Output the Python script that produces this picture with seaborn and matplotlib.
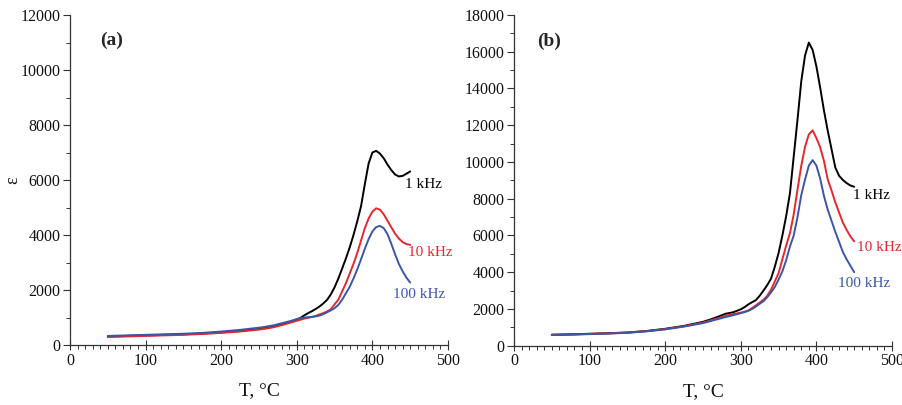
import numpy as np
import pandas as pd
import matplotlib
matplotlib.use("Agg")
import matplotlib.pyplot as plt
from matplotlib.ticker import MultipleLocator
import seaborn as sns

# Temperature grid (°C) shared by all curves
T = [50, 75, 100, 125, 150, 175, 200, 225, 250, 260, 270, 280, 290, 300,
     305, 310, 315, 320, 325, 330, 335, 340, 345, 350, 355, 360, 365, 370,
     375, 380, 385, 390, 395, 400, 405, 410, 415, 420, 425, 430, 435, 440,
     445, 450]

# Panel (a): permittivity vs temperature
a_1k = [310, 330, 350, 370, 390, 420, 460, 510, 580, 620, 680, 750, 830, 930,
        990, 1080, 1160, 1230, 1310, 1400, 1510, 1640, 1840, 2100, 2420, 2780,
        3150, 3550, 4000, 4500, 5050, 5850, 6600, 7000, 7060, 6960, 6790, 6560,
        6360, 6200, 6130, 6150, 6230, 6310]
a_10k = [290, 310, 330, 350, 370, 400, 440, 490, 560, 600, 650, 720, 800, 880,
         920, 960, 990, 1020, 1060, 1110, 1160, 1220, 1300, 1480, 1650, 1950,
         2250, 2600, 2950, 3350, 3800, 4250, 4600, 4850, 4970, 4920, 4750, 4520,
         4280, 4050, 3870, 3740, 3670, 3640]
a_100k = [330, 350, 370, 390, 410, 440, 490, 550, 630, 670, 720, 790, 860, 940,
          980, 1000, 1010, 1020, 1040, 1070, 1120, 1190, 1260, 1340, 1460, 1650,
          1880, 2120, 2420, 2750, 3120, 3500, 3850, 4130, 4290, 4330, 4250, 4030,
          3680, 3300, 2950, 2680, 2450, 2270]

# Panel (b): permittivity vs temperature
b_1k = [600, 620, 650, 680, 720, 800, 920, 1080, 1300, 1430, 1580, 1740, 1820,
        1980, 2100, 2250, 2370, 2480, 2720, 3000, 3300, 3650, 4300, 5050, 6000,
        7050, 8300, 10300, 12300, 14400, 15800, 16500, 16100, 15200, 14050,
        12800, 11700, 10700, 9700, 9250, 9020, 8850, 8720, 8650]
b_10k = [590, 610, 640, 670, 710, 790, 900, 1060, 1260, 1380, 1500, 1620, 1720,
         1800, 1850, 1920, 2050, 2200, 2350, 2500, 2720, 3050, 3500, 3950, 4700,
         5450, 6120, 7150, 8500, 9800, 10830, 11500, 11720, 11300, 10800, 10050,
         9050, 8450, 7800, 7250, 6700, 6300, 5950, 5680]
b_100k = [580, 600, 630, 660, 700, 780, 890, 1040, 1230, 1340, 1450, 1560, 1660,
          1770, 1830, 1900, 2000, 2130, 2280, 2420, 2640, 2900, 3200, 3600, 4050,
          4650, 5400, 6000, 7000, 8200, 9050, 9800, 10100, 9800, 9100, 8150,
          7400, 6800, 6200, 5650, 5100, 4700, 4350, 4000]

freqs = ["1 kHz", "10 kHz", "100 kHz"]
colors = {"1 kHz": "#000000", "10 kHz": "#e8262b", "100 kHz": "#3b56a6"}

panels = {
    "a": {"series": [a_1k, a_10k, a_100k], "ymax": 12000, "ystep": 2000,
          "labels": [(443, 5820), (447, 3350), (427, 1820)]},
    "b": {"series": [b_1k, b_10k, b_100k], "ymax": 18000, "ystep": 2000,
          "labels": [(448, 8200), (454, 5370), (429, 3410)]},
}

sns.set_style("ticks")
plt.rcParams["font.family"] = ["Liberation Serif", "DejaVu Serif"]
plt.rcParams["mathtext.fontset"] = "stix"

fig = plt.figure(figsize=(9.03, 4.05), dpi=100)
axes = {
    "a": fig.add_axes([70 / 903, 60 / 405, 378 / 903, 330 / 405]),
    "b": fig.add_axes([514 / 903, 59.3 / 405, 378 / 903, 330.7 / 405]),
}

for key, ax in axes.items():
    p = panels[key]
    frames = []
    for name, vals in zip(freqs, p["series"]):
        frames.append(pd.DataFrame({"T": T, "eps": vals, "f": name}))
    df = pd.concat(frames, ignore_index=True)
    sns.lineplot(data=df, x="T", y="eps", hue="f", palette=colors, ax=ax,
                 linewidth=1.4, legend=False, sort=False, estimator=None)

    ax.set_xlim(0, 500)
    ax.set_ylim(0, p["ymax"])
    ax.xaxis.set_major_locator(MultipleLocator(100))
    ax.xaxis.set_minor_locator(MultipleLocator(10))
    ax.yaxis.set_major_locator(MultipleLocator(p["ystep"]))
    ax.yaxis.set_minor_locator(MultipleLocator(p["ystep"] / 2))
    ax.tick_params(axis="x", which="major", direction="inout", length=7,
                   width=0.8, labelsize=11.5, pad=2, colors="#333333",
                   labelcolor="#111111")
    ax.tick_params(axis="x", which="minor", direction="out", length=3,
                   width=0.7, colors="#333333")
    ax.tick_params(axis="y", which="major", direction="out", length=5,
                   width=0.8, labelsize=11.5, pad=2, colors="#333333",
                   labelcolor="#111111")
    ax.tick_params(axis="y", which="minor", direction="out", length=3,
                   width=0.7, colors="#333333")
    for s in ("top", "right"):
        ax.spines[s].set_visible(False)
    for s in ("left", "bottom"):
        ax.spines[s].set_linewidth(0.9)
        ax.spines[s].set_color("#333333")

    ax.set_xlabel("T, °C", fontsize=14, labelpad=10, color="#111111")
    ax.set_ylabel("")
    for (tx, ty), name in zip(p["labels"], freqs):
        ax.text(tx, ty, name, color=colors[name], fontsize=11,
                ha="left", va="center")

axes["a"].text(0.079, 0.924, "(a)", transform=axes["a"].transAxes,
               fontsize=14, fontweight="bold", ha="left", va="center")
axes["b"].text(0.06, 0.919, "(b)", transform=axes["b"].transAxes,
               fontsize=14, fontweight="bold", ha="left", va="center")
axes["a"].set_ylabel("ε", fontsize=13, color="#111111", va="center")
axes["a"].yaxis.set_label_coords(-(70 - 13) / 378, 0.5)

fig.savefig("out.png", dpi=100)
